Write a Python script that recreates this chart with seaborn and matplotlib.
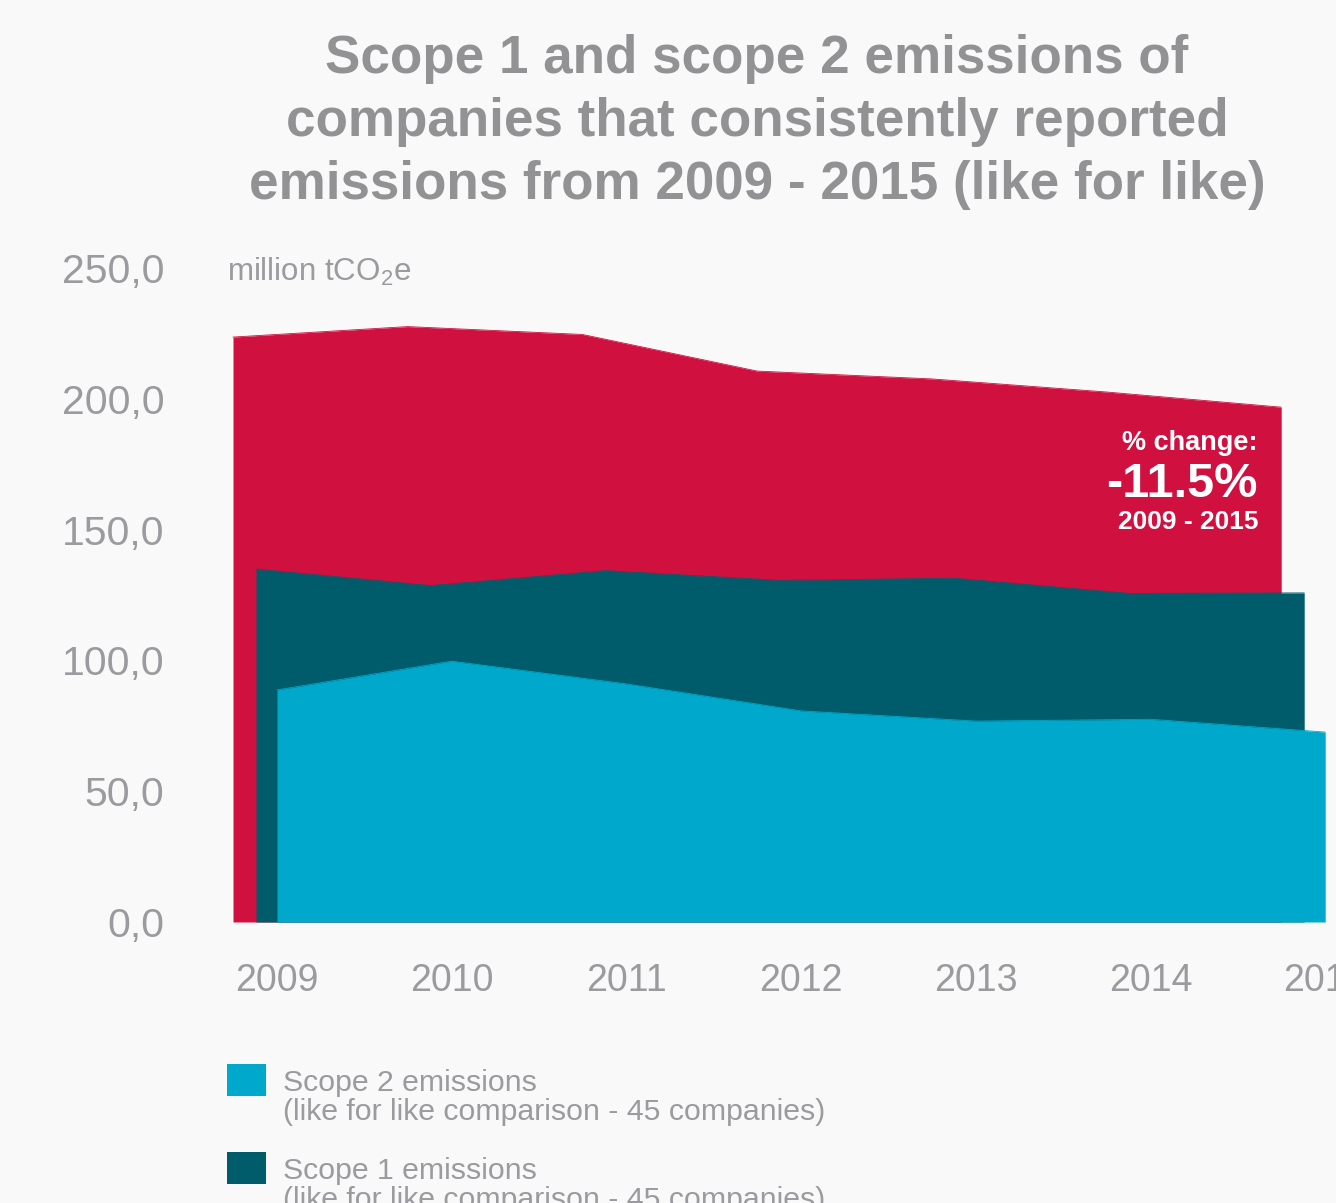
import matplotlib
matplotlib.use("Agg")
import matplotlib.pyplot as plt
from matplotlib.patches import Rectangle
import seaborn as sns
import numpy as np

# ---- data (million tCO2e) ----
years = [2009, 2010, 2011, 2012, 2013, 2014, 2015]
total_emissions = [223.6, 227.6, 224.6, 210.6, 207.6, 202.6, 196.8]
scope1_emissions = [134.9, 128.6, 134.3, 130.6, 131.4, 125.6, 125.8]
scope2_emissions = [88.7, 99.7, 91.0, 80.7, 76.8, 77.5, 72.6]
y_ticks = [0, 50, 100, 150, 200, 250]
legend_labels = [
    "Scope 2 emissions\n(like for like comparison - 45 companies)",
    "Scope 1 emissions\n(like for like comparison - 45 companies)",
]
change_text = ["% change:", "-11.5%", "2009 - 2015"]

# ---- style ----
BG = "#f9f9f9"
RED = "#d0103f"
TEAL = "#005b6b"
BLUE = "#00a8cc"
GREY = "#9b9b9f"
TITLE_GREY = "#929295"

sns.set_theme(style="white")
plt.rcParams["font.family"] = ["Liberation Sans", "DejaVu Sans"]
plt.rcParams["mathtext.fontset"] = "custom"
plt.rcParams["mathtext.rm"] = "Liberation Sans"

W, H = 1336, 1203
fig = plt.figure(figsize=(W / 100, H / 100), dpi=100, facecolor=BG)


def fx(px):
    return px / W


def fy(py):
    return 1 - py / H


# axes: 0 at y=922 px, 250 at y=268 px; one year = 174.7 px
ax_left, ax_right, ax_bottom, ax_top = 200, 1336, 922, 268
ax = fig.add_axes([fx(ax_left), fy(ax_bottom), fx(ax_right - ax_left),
                   (ax_bottom - ax_top) / H])
ax.set_facecolor(BG)
year_px = 174.7
x0 = years[0] - (277 - ax_left) / year_px
x1 = years[0] + (ax_right - 277) / year_px
ax.set_xlim(x0, x1)
ax.set_ylim(0, 250)

# back-to-front layers, each shifted slightly left for a depth effect
layers = [
    (total_emissions, RED, -44 / year_px),
    (scope1_emissions, TEAL, -21 / year_px),
    (scope2_emissions, BLUE, 0.0),
]
for z, (vals, col, off) in enumerate(layers):
    xs = np.array(years, dtype=float) + off
    ax.fill_between(xs, 0, vals, color=col, lw=0, zorder=2 + z)
    sns.lineplot(x=xs, y=vals, color=col, lw=0.6, ax=ax, zorder=2 + z)

ax.set_xticks(years)
ax.set_xticklabels([str(y) for y in years])
ax.set_yticks(y_ticks)
ax.set_yticklabels([f"{v:.1f}".replace(".", ",") for v in y_ticks])
ax.tick_params(axis="x", length=0, pad=29.5, labelsize=27, labelcolor=GREY)
ax.tick_params(axis="y", length=0, pad=25.5, labelsize=29.5, labelcolor=GREY)
for s in ax.spines.values():
    s.set_visible(False)
ax.grid(False)
ax.set_xlabel("")
ax.set_ylabel("")

# unit label
fig.text(fx(227), fy(281), r"million tCO$_\mathregular{2}$e", fontsize=22.5,
         color=GREY, ha="left", va="baseline")

# title
title_lines = [
    "Scope 1 and scope 2 emissions of",
    "companies that consistently reported",
    "emissions from 2009 - 2015 (like for like)",
]
for i, line in enumerate(title_lines):
    fig.text(fx(757), fy(73 + 63 * i), line, fontsize=38.2, fontweight="bold",
             color=TITLE_GREY, ha="center", va="baseline")

# percentage change annotation
fig.text(fx(1258), fy(450), change_text[0], fontsize=19.5, fontweight="bold",
         color="white", ha="right", va="baseline")
fig.text(fx(1257), fy(497), change_text[1], fontsize=35, fontweight="bold",
         color="white", ha="right", va="baseline")
fig.text(fx(1258), fy(529), change_text[2], fontsize=19, fontweight="bold",
         color="white", ha="right", va="baseline")

# legend
for i, (lab, col) in enumerate(zip(legend_labels, [BLUE, TEAL])):
    top = 1064 + 88 * i
    fig.add_artist(Rectangle((fx(227), fy(top + 32)), fx(39), 32 / H,
                             transform=fig.transFigure, facecolor=col,
                             edgecolor="none"))
    first, second = lab.split("\n")
    fig.text(fx(283), fy(top + 27), first, fontsize=21.8, color=GREY,
             ha="left", va="baseline")
    fig.text(fx(283), fy(top + 56), second, fontsize=21.8, color=GREY,
             ha="left", va="baseline")

fig.savefig("out.png", dpi=100, facecolor=BG)
